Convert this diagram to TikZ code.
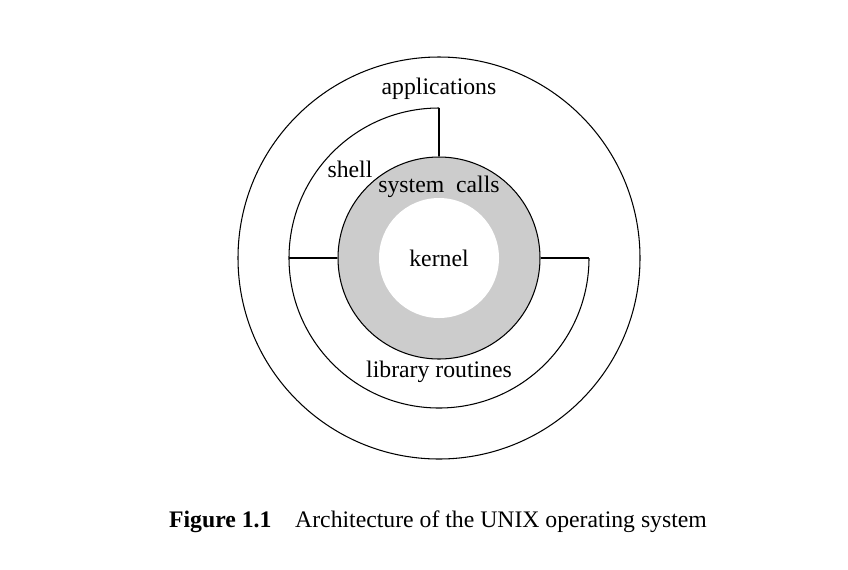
\documentclass[tikz,border=0pt]{standalone}
\usepackage{fontspec}
\setmainfont{Liberation Serif}
\begin{document}
\begin{tikzpicture}[x=0.02cm,y=-0.02cm,
  lbl/.style={font=\fontsize{13.5}{15}\selectfont, inner sep=0pt},
  ln/.style={line width=0.6pt}]
\useasboundingbox (0,0) rectangle (848,569);
\coordinate (c) at (439,258);
\node[ln,draw,circle,minimum size=402*0.02cm,inner sep=0pt] (outer) at (c) {};
\draw[ln] (439,108) arc[start angle=90,end angle=360,radius=150*0.02cm] coordinate (r1);
\node[ln,draw,circle,fill=black!20,minimum size=202*0.02cm,inner sep=0pt] (ring) at (c) {};
\node[circle,fill=white,minimum size=120*0.02cm,inner sep=0pt] (kern) at (c) {};
\coordinate (t1) at (439,108);
\coordinate (l1) at (289,258);
\draw[ln] (t1) -- (ring.north);
\draw[ln] (l1) -- (ring.west);
\draw[ln] (r1) -- (ring.east);
\node[lbl] (app) at (439,89) {applications};
\node[lbl] (sh) at (350,169) {shell};
\node[lbl] (sc) at (439,187) {system\ \ calls};
\node[lbl] (k) at (439,258) {kernel};
\node[lbl] (lib) at (439,372) {library routines};
\node[lbl,font=\fontsize{13.5}{15}\selectfont] (cap) at (438,522) {\textbf{Figure 1.1}\quad Architecture of the UNIX operating system};
\end{tikzpicture}
\end{document}
